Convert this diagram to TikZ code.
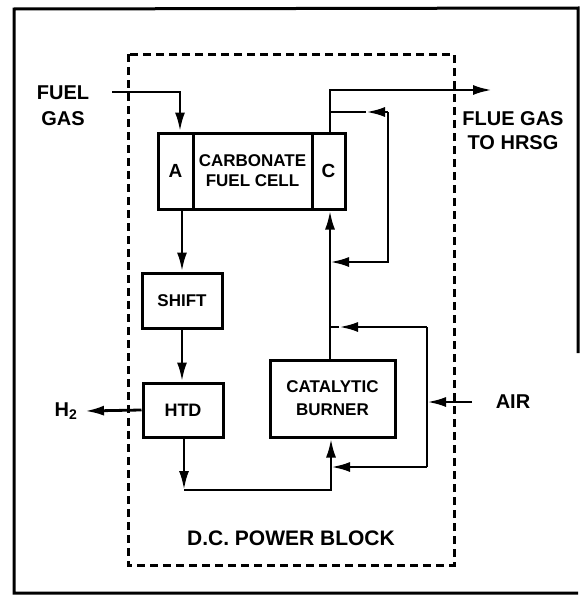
\documentclass[tikz,border=0pt]{standalone}
\usepackage{fontspec}
\setmainfont{Liberation Sans}
\usetikzlibrary{arrows.meta}
\tikzset{
  x=1pt,y=-1pt,
  frame/.style={line width=3pt},
  dashbox/.style={line width=3pt,dash pattern=on 8pt off 5pt},
  unit/.style={draw,line width=3pt,rectangle,inner sep=0pt,font=\bfseries\fontsize{17}{20}\selectfont,align=center},
  flow/.style={line width=2.8pt},
  tip/.style={-{Latex[length=19pt,width=10pt]}},
  lbl/.style={font=\bfseries\fontsize{20}{24}\selectfont,align=center,inner sep=0pt}
}
\begin{document}
\begin{tikzpicture}
\useasboundingbox (0,0) rectangle (580,597);
% outer frame
\draw[frame] (578,353) -- (578,8) -- (14,9) -- (14,593) -- (578,593);
% dashed power block boundary
\draw[dashbox] (128,54) rectangle (454,565);
% units
\node[unit,minimum width=35pt,minimum height=76pt,font=\bfseries\fontsize{19}{22}\selectfont] (A) at (175.5,171) {A};
\node[unit,minimum width=119pt,minimum height=76pt] (cfc) at (252.5,171) {CARBONATE\\FUEL CELL};
\node[unit,minimum width=33pt,minimum height=76pt,font=\bfseries\fontsize{19}{22}\selectfont] (C) at (328.5,171) {C};
\node[unit,minimum width=80pt,minimum height=55pt] (shift) at (182,300.5) {SHIFT};
\node[unit,minimum width=80pt,minimum height=54pt,font=\bfseries\fontsize{18}{20}\selectfont] (htd) at (183,410) {HTD};
\node[unit,minimum width=125pt,minimum height=77pt,font=\bfseries\fontsize{17}{23}\selectfont] (burner) at (332.5,398.5) {CATALYTIC\\BURNER};
% labels
\node[lbl,font=\bfseries\fontsize{20}{26}\selectfont] (fuel) at (63,106) {FUEL\\GAS};
\node[lbl] (flue) at (513,131) {FLUE GAS\\TO HRSG};
\node[lbl] (h2) at (66,411) {H\textsubscript{2}};
\node[lbl] (air) at (513,402) {AIR};
\node[lbl,font=\bfseries\fontsize{21}{24}\selectfont] (dc) at (291,538) {D.C. POWER BLOCK};
% coordinates
\coordinate (fuelin) at (112,92);
\coordinate (fuelc) at (180,92);
\coordinate (flueout) at (492,90);
\coordinate (h2out) at (85,411);
\coordinate (htdc) at (184,490);
\coordinate (r1) at (330,112);
\coordinate (rm) at (366,112);
\coordinate (r2) at (388,112);
\coordinate (r3) at (388,262);
\coordinate (r4) at (330,262);
\coordinate (airin) at (472,402);
\coordinate (a0) at (427,402);
\coordinate (a1) at (427,327);
\coordinate (a2) at (427,467);
\coordinate (bm) at (339,327);
\coordinate (b1) at (330,327);
\coordinate (b2) at (331,467);
% connectors
\draw[flow,tip] (fuelin) -- (fuelc) -- (fuelc |- A.north);
\draw[flow,tip] (shift.north |- A.south) -- (shift.north);
\draw[flow,tip] (shift.south) -- (shift.south |- htd.north);
\draw[flow,tip] (htd.west) -- (h2out);
\draw[flow,tip] (htd.south -| htdc) -- (htdc);
\draw[flow,tip] (htdc) -| (burner.south -| b2);
\draw[flow,tip] (burner.north -| b1) -- (C.south -| b1);
\draw[flow,tip] (C.north -| r1) |- (flueout);
\draw[flow,tip] (r2) -- (rm);
\draw[flow] (rm) -- (r1);
\draw[flow,tip] (r2) -- (r3) -- (r4);
\draw[flow,tip] (airin) -- (a0);
\draw[flow] (a1) -- (a2);
\draw[flow,tip] (a1) -- (bm);
\draw[flow] (bm) -- (b1);
\draw[flow,tip] (a2) -- (b2);
\end{tikzpicture}
\end{document}
